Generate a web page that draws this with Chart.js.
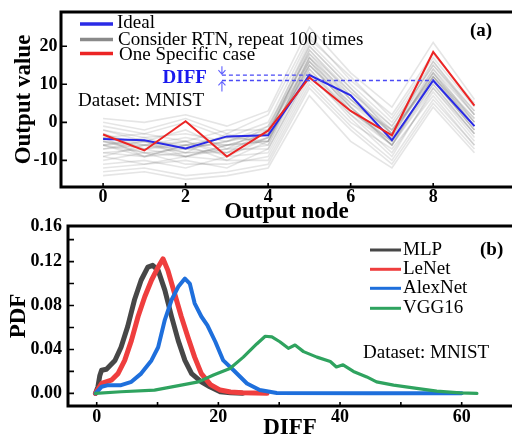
<!DOCTYPE html>
<html><head><meta charset="utf-8">
<script src="https://cdn.jsdelivr.net/npm/chart.js@4.4.0/dist/chart.umd.min.js"></script>
<style>
html,body{margin:0;padding:0;background:#fff;overflow:hidden;width:512px;height:437px;}
#wrapA{position:absolute;left:0;top:0;width:512px;height:225px;}
#wrapB{position:absolute;left:0;top:215px;width:512px;height:232px;}
</style></head><body>
<div id="wrapA"><canvas id="chartA"></canvas></div>
<div id="wrapB"><canvas id="chartB"></canvas></div>
<script>
// ================= (a) data =================
const outputNodes = [0, 1, 2, 3, 4, 5, 6, 7, 8, 9];
const idealOutput = [-4.4, -4.7, -6.9, -3.7, -3.4, 12.4, 7.1, -4.7, 11.0, -1.0];
const specificCase = [-3.2, -7.4, 0.3, -9.0, -2.2, 11.8, 3.0, -3.4, 18.5, 4.4];
const rtnRuns = [
  [-5, -6, -7, -5, -3, 17, 6, -3, 12, 0],
  [-8, -9, -6, -10, -5, 15, 4, -6, 10, -3],
  [-2, -4, -3, -5, -1, 20, 9, -1, 15, 3],
  [-11, -10, -12, -9, -8, 12, 2, -8, 8, -5],
  [0, -2, 1, -3, 2, 23, 11, 2, 18, 5],
  [-6, -8, -9, -7, -4, 16, 5, -4, 13, -1],
  [-13, -12, -14, -13, -11, 9, -2, -11, 5, -7],
  [-4, -3, -5, -2, -2, 18, 8, -2, 14, 2],
  [-7, -5, -8, -8, -6, 14, 3, -5, 11, -2],
  [1, 0, 2, -1, 3, 25, 13, 4, 21, 6],
  [-9, -11, -10, -12, -7, 13, 1, -9, 9, -4],
  [-3, -6, -4, -6, -3, 19, 7, -3, 13, 1],
  [-5, -7, -6, -4, -5, 17, 4, -6, 12, -1],
  [-10, -8, -11, -11, -9, 11, 0, -7, 7, -6],
  [-6, -4, -7, -5, -2, 21, 10, 0, 16, 3],
  [-14, -13, -15, -14, -12, 7, -5, -12, 4, -8],
  [-2, -5, -2, -7, -1, 18, 6, -4, 14, 0],
  [-7, -6, -5, -9, -4, 15, 5, -2, 11, -2],
  [-4, -9, -8, -3, -6, 16, 3, -5, 10, -3],
  [-8, -7, -9, -6, -3, 19, 8, -1, 15, 2],
  [-1, -3, 0, -4, 0, 22, 12, 1, 17, 4],
  [-12, -11, -9, -10, -10, 10, -1, -10, 6, -6],
  [-5, -8, -7, -8, -4, 14, 2, -6, 12, -1],
  [-6, -5, -6, -6, -5, 17, 7, -3, 13, 0],
  [-3, -7, -5, -8, -2, 16, 6, -2, 12, 1],
  [-9, -6, -8, -7, -7, 13, 3, -6, 9, -3],
  [-6, -9, -6, -4, -3, 20, 9, -3, 16, 2],
  [-4, -5, -9, -6, -5, 15, 4, -5, 11, -2]
];
const nodeTicks = [0, 2, 4, 6, 8];
const valueTicks = [-10, 0, 10, 20];
const diffArrowX = 2.88;

// ================= (b) data =================
const mlpDiff = [-0.2, 0.2, 0.5, 0.8, 1.6, 3.0, 4.0, 5.1, 6.2, 7.3, 8.4, 9.2, 10.1, 11.2, 12.3, 13.4, 14.5, 15.6, 17.2, 18.6, 20.3, 22.0, 24.0];
const mlpPdf  = [0, 0.006, 0.016, 0.021, 0.022, 0.030, 0.042, 0.061, 0.085, 0.103, 0.115, 0.1166, 0.112, 0.094, 0.070, 0.048, 0.030, 0.018, 0.0105, 0.006, 0.0015, 0.0005, 0];
const lenetDiff = [-0.2, 0.8, 2.4, 3.5, 4.6, 5.7, 6.8, 7.9, 9.0, 10.1, 10.9, 11.7, 12.8, 13.9, 15.0, 16.1, 17.2, 18.7, 20.3, 22.0, 24.0, 28.0];
const lenetPdf  = [0, 0.009, 0.012, 0.018, 0.030, 0.048, 0.070, 0.088, 0.103, 0.115, 0.1225, 0.112, 0.091, 0.070, 0.051, 0.033, 0.018, 0.008, 0.003, 0.0012, 0.0005, 0];
const alexDiff = [-0.2, 0.8, 1.9, 4.0, 5.7, 7.3, 9.0, 10.1, 11.2, 12.3, 13.4, 14.5, 15.3, 16.1, 17.2, 18.2, 19.5, 20.8, 22.5, 24.7, 26.8, 29.6, 45.0, 60.0];
const alexPdf  = [0, 0.006, 0.0075, 0.0075, 0.0105, 0.018, 0.030, 0.042, 0.067, 0.085, 0.097, 0.1045, 0.100, 0.082, 0.070, 0.062, 0.047, 0.030, 0.021, 0.009, 0.003, 0.0003, 0, 0];
const vggDiff = [-0.2, 4.0, 9.5, 13.9, 16.7, 19.2, 21.9, 24.1, 26.3, 27.7, 28.8, 30.1, 31.5, 32.6, 34.0, 36.2, 38.4, 39.4, 40.5, 42.2, 44.4, 46.0, 48.8, 52.6, 55.9, 59.7, 62.5];
const vggPdf  = [0, 0.0015, 0.003, 0.0075, 0.0105, 0.0167, 0.0227, 0.033, 0.045, 0.052, 0.0515, 0.047, 0.041, 0.044, 0.038, 0.033, 0.029, 0.024, 0.026, 0.020, 0.015, 0.0105, 0.0075, 0.0045, 0.002, 0.0005, 0];
const diffTicks = [0, 20, 40, 60];
const diffMinorTicks = [0, 10, 20, 30, 40, 50, 60];
const pdfTicks = [0, 0.04, 0.08, 0.12, 0.16];
const pdfTickLabels = ['0.00', '0.04', '0.08', '0.12', '0.16'];
const pdfMinorTicks = [0, 0.02, 0.04, 0.06, 0.08, 0.10, 0.12, 0.14];
const modelNames = ['MLP', 'LeNet', 'AlexNet', 'VGG16'];
const modelColors = ['#474747', '#ef3e3e', '#1e6fdc', '#2fa35f'];

// ================= helpers =================
const serif = "'Liberation Serif', 'Times New Roman', serif";
function pts(xs, ys) { return xs.map((x, i) => ({x: x, y: ys[i]})); }

const framePlugin = {
  id: 'frame',
  afterDatasetsDraw(chart, args, o) {
    const {ctx, chartArea: a, scales} = chart;
    ctx.save();
    ctx.strokeStyle = '#000';
    ctx.lineWidth = 1.6;
    ctx.beginPath();
    o.yTicks.forEach(v => { const y = scales.y.getPixelForValue(v); ctx.moveTo(a.left, y); ctx.lineTo(a.left + 6, y); });
    o.xTicks.forEach(v => { const x = scales.x.getPixelForValue(v); ctx.moveTo(x, a.bottom); ctx.lineTo(x, a.bottom - 4); });
    ctx.stroke();
    ctx.lineWidth = 3;
    ctx.beginPath();
    ctx.moveTo(a.right + 5, a.top);
    ctx.lineTo(a.left, a.top);
    ctx.lineTo(a.left, a.bottom);
    ctx.lineTo(a.right + 5, a.bottom);
    ctx.stroke();
    ctx.restore();
  }
};

function text(ctx, s, x, y, font, color, align) {
  ctx.font = font; ctx.fillStyle = color; ctx.textAlign = align || 'left'; ctx.textBaseline = 'middle';
  ctx.fillText(s, x, y);
}

const annotA = {
  id: 'annotA',
  afterDatasetsDraw(chart) {
    const {ctx, chartArea: a, scales: {x: xs, y: ys}} = chart;
    ctx.save();
    const L = [
      ['Ideal', '#2a2ae6', 24, 23.5],
      ['Consider RTN, repeat 100 times', '#8a8a8a', 39.5, 40],
      ['One Specific case', '#ec2424', 53.5, 55]
    ];
    L.forEach(([t, c, ly, ty], i) => {
      ctx.strokeStyle = c; ctx.lineWidth = 3.5;
      ctx.beginPath(); ctx.moveTo(a.left + 19, ly); ctx.lineTo(a.left + 52, ly); ctx.stroke();
      text(ctx, t, a.left + 56 + i, ty, "19px " + serif, '#000');
    });
    const ax = xs.getPixelForValue(diffArrowX);
    const yHi = ys.getPixelForValue(idealOutput[5]);
    const yLo = ys.getPixelForValue(idealOutput[8]);
    ctx.strokeStyle = '#4a4af5'; ctx.lineWidth = 1.4; ctx.setLineDash([4, 3]);
    ctx.beginPath();
    ctx.moveTo(ax, yHi); ctx.lineTo(xs.getPixelForValue(5), yHi);
    ctx.moveTo(ax, yLo); ctx.lineTo(xs.getPixelForValue(8), yLo);
    ctx.stroke();
    ctx.setLineDash([]);
    ctx.strokeStyle = '#6060ff'; ctx.lineWidth = 1.1;
    ctx.beginPath();
    ctx.moveTo(ax, yHi - 9); ctx.lineTo(ax, yHi - 1);
    ctx.moveTo(ax - 3.5, yHi - 5); ctx.lineTo(ax, yHi - 1); ctx.lineTo(ax + 3.5, yHi - 5);
    ctx.moveTo(ax, yLo + 11); ctx.lineTo(ax, yLo + 1);
    ctx.moveTo(ax - 3.5, yLo + 5); ctx.lineTo(ax, yLo + 1); ctx.lineTo(ax + 3.5, yLo + 5);
    ctx.stroke();
    text(ctx, 'DIFF', ax - 15, 78.5, "bold 19px " + serif, '#1a1aee', 'right');
    text(ctx, 'Dataset: MNIST', a.left + 17, 101, "19px " + serif, '#000');
    text(ctx, '(a)', 470, 31, "bold 19px " + serif, '#000');
    ctx.restore();
  }
};

const annotB = {
  id: 'annotB',
  afterDatasetsDraw(chart) {
    const {ctx} = chart;
    ctx.save();
    const rows = [35, 54.3, 73.3, 93.3];
    modelNames.forEach((n, i) => {
      ctx.strokeStyle = modelColors[i]; ctx.lineWidth = 3;
      ctx.beginPath(); ctx.moveTo(370, rows[i]); ctx.lineTo(401, rows[i]); ctx.stroke();
      text(ctx, n, 403, rows[i], "19px " + serif, '#000');
    });
    text(ctx, '(b)', 480, 35, "bold 19px " + serif, '#000');
    text(ctx, 'Dataset: MNIST', 363, 138.3, "19px " + serif, '#000');
    ctx.restore();
  }
};

// ================= chart (a) =================
const dsA = [
  {label: 'One Specific case', data: pts(outputNodes, specificCase), borderColor: '#ec2424', borderWidth: 2, pointRadius: 0, order: 1},
  {label: 'Ideal', data: pts(outputNodes, idealOutput), borderColor: '#2a2ae6', borderWidth: 2, pointRadius: 0, order: 2}
].concat(rtnRuns.map((r, k) => ({label: 'RTN ' + k, data: pts(outputNodes, r), borderColor: 'rgba(100,100,100,0.17)', borderWidth: 1.6, pointRadius: 0, order: 3})));

new Chart(document.getElementById('chartA'), {
  type: 'line',
  data: {datasets: dsA},
  options: {
    responsive: true, maintainAspectRatio: false, animation: false, devicePixelRatio: 1,
    layout: {padding: {top: 12, left: 0, right: 0, bottom: 0}},
    plugins: {legend: {display: false}, tooltip: {enabled: false},
      frame: {yTicks: valueTicks, xTicks: nodeTicks}},
    scales: {
      x: {
        type: 'linear', min: -1.02, max: 9.91,
        grid: {display: false, drawTicks: false}, border: {display: false},
        afterBuildTicks: s => { s.ticks = nodeTicks.map(v => ({value: v})); },
        afterFit: s => { s.height = 38; s.paddingLeft = 0; s.paddingRight = 0; },
        ticks: {font: {family: serif, size: 18, weight: 'bold'}, color: '#000', padding: 0, maxRotation: 0, autoSkip: false},
        title: {display: true, text: 'Output node', color: '#000', font: {family: serif, size: 23, weight: 'bold', lineHeight: 1}, padding: {top: 0, bottom: 1}}
      },
      y: {
        type: 'linear', min: -17, max: 29,
        grid: {display: false, drawTicks: false}, border: {display: false},
        afterBuildTicks: s => { s.ticks = valueTicks.map(v => ({value: v})); },
        afterFit: s => { s.width = 61; s.paddingTop = 0; s.paddingBottom = 0; },
        ticks: {font: {family: serif, size: 18, weight: 'bold'}, color: '#000', padding: 3.5},
        title: {display: true, text: 'Output value', color: '#000', font: {family: serif, size: 23, weight: 'bold', lineHeight: 1}, padding: {top: 13, bottom: 0}}
      }
    }
  },
  plugins: [framePlugin, annotA]
});

// ================= chart (b) =================
const seriesB = [[mlpDiff, mlpPdf, 5], [lenetDiff, lenetPdf, 5], [alexDiff, alexPdf, 4], [vggDiff, vggPdf, 3.2]];
const dsB = seriesB.map(([xs, ys, w], i) => ({
  label: modelNames[i], data: pts(xs, ys), borderColor: modelColors[i], borderWidth: w,
  pointRadius: 0, borderJoinStyle: 'round', borderCapStyle: 'round', order: 4 - i
}));

new Chart(document.getElementById('chartB'), {
  type: 'line',
  data: {datasets: dsB},
  options: {
    responsive: true, maintainAspectRatio: false, animation: false, devicePixelRatio: 1,
    layout: {padding: {top: 11, left: 0, right: 0, bottom: 0}},
    plugins: {legend: {display: false}, tooltip: {enabled: false},
      frame: {yTicks: pdfMinorTicks, xTicks: diffMinorTicks}},
    scales: {
      x: {
        type: 'linear', min: -4.72, max: 68.27,
        grid: {display: false, drawTicks: false}, border: {display: false},
        afterBuildTicks: s => { s.ticks = diffTicks.map(v => ({value: v})); },
        afterFit: s => { s.height = 41; s.paddingLeft = 0; s.paddingRight = 0; },
        ticks: {font: {family: serif, size: 18, weight: 'bold'}, color: '#000', padding: 1, maxRotation: 0, autoSkip: false},
        title: {display: true, text: 'DIFF', color: '#000', font: {family: serif, size: 23, weight: 'bold', lineHeight: 1}, padding: {top: 0, bottom: 7}}
      },
      y: {
        type: 'linear', min: -0.0115, max: 0.1524,
        grid: {display: false, drawTicks: false}, border: {display: false},
        afterBuildTicks: s => { s.ticks = pdfTicks.map(v => ({value: Math.min(v, s.max)})); },
        afterFit: s => { s.width = 68; s.paddingTop = 0; s.paddingBottom = 0; },
        ticks: {font: {family: serif, size: 18, weight: 'bold'}, color: '#000', padding: 6,
          callback: (v, i) => pdfTickLabels[i]},
        title: {display: true, text: 'PDF', color: '#000', font: {family: serif, size: 23, weight: 'bold', lineHeight: 1}, padding: {top: 8, bottom: 0}}
      }
    }
  },
  plugins: [framePlugin, annotB]
});
</script>
</body></html>
